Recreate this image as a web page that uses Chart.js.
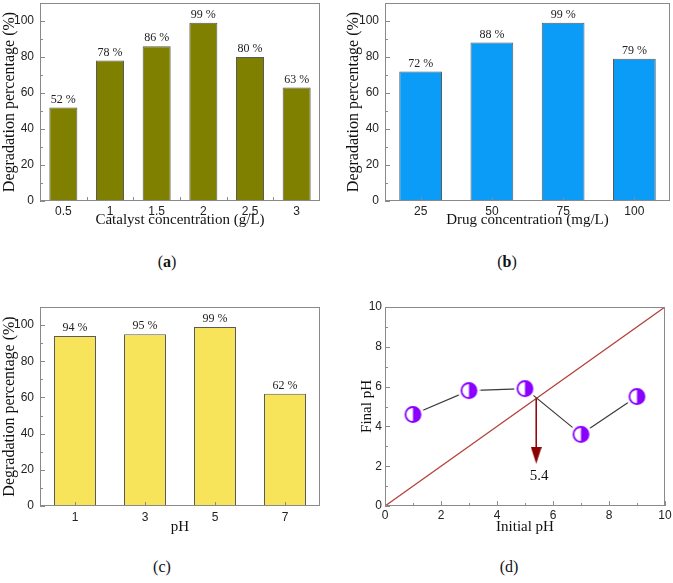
<!DOCTYPE html>
<html lang="en">
<head>
<meta charset="UTF-8">
<title>Degradation percentage and pH drift</title>
<script src="https://cdn.jsdelivr.net/npm/chart.js"></script>
<style>
  body { margin: 0; background: #fff; }
  #page { position: relative; width: 673px; height: 583px; overflow: hidden; }
  canvas { position: absolute; }
  .cap {
    position: absolute;
    font-family: "Liberation Serif", "Times New Roman", serif;
    font-size: 16px;
    color: #111;
    transform: translate(-50%, -50%);
  }
</style>
</head>
<body>
<div id="page">
  <canvas id="chartA" width="335" height="240" style="left:0;top:0"></canvas>
  <canvas id="chartB" width="338" height="240" style="left:335px;top:0"></canvas>
  <canvas id="chartC" width="335" height="250" style="left:0;top:290px"></canvas>
  <canvas id="chartD" width="338" height="250" style="left:335px;top:290px"></canvas>
  <div class="cap" style="left:167px;top:262px">(<b>a</b>)</div>
  <div class="cap" style="left:507px;top:262px">(<b>b</b>)</div>
  <div class="cap" style="left:162px;top:567px">(c)</div>
  <div class="cap" style="left:509px;top:567px">(d)</div>
</div>
<script>
// data
const catalystLabels = ['0.5', '1', '1.5', '2', '2.5', '3'];
const catalystValues = [52, 78, 86, 99, 80, 63];
const drugLabels = ['25', '50', '75', '100'];
const drugValues = [72, 88, 99, 79];
const phLabels = ['1', '3', '5', '7'];
const phValues = [94, 95, 99, 62];
const initialPH = [1, 3, 5, 7, 9];
const finalPH = [4.6, 5.8, 5.9, 3.6, 5.5];
const diagonalX = [0, 10];
const diagonalY = [0, 10];
const pzc = 5.4;
const arrowY = [5.4, 2.9];
const arrowHeadY = 2.55;
const pzcLabelY = 1.5;

const SERIF = '"Liberation Serif", "Times New Roman", serif';
const SANS = '"Liberation Sans", Arial, sans-serif';

// white halo + half filled circle, so the joining lines stop short of the markers
function halfCircle() {
    const c = document.createElement('canvas');
    c.width = 23; c.height = 23;
    const g = c.getContext('2d');
    g.fillStyle = '#fff';
    g.beginPath(); g.arc(11.5, 11.5, 11, 0, Math.PI * 2); g.fill();
    g.fillStyle = '#8a00ff';
    g.beginPath(); g.arc(11.5, 11.5, 7.5, -Math.PI / 2, Math.PI / 2); g.closePath(); g.fill();
    g.strokeStyle = '#8a00ff';
    g.lineWidth = 1.8;
    g.beginPath(); g.arc(11.5, 11.5, 7.5, 0, Math.PI * 2); g.stroke();
    return c;
}

function arrowHead() {
    const c = document.createElement('canvas');
    c.width = 11; c.height = 17;
    const g = c.getContext('2d');
    g.fillStyle = '#8b0000';
    g.beginPath(); g.moveTo(0, 0); g.lineTo(11, 0); g.lineTo(5.5, 17); g.closePath(); g.fill();
    return c;
}

const valueLabels = {
    id: 'valueLabels',
    afterDatasetsDraw(chart) {
        const ctx = chart.ctx;
        const data = chart.data.datasets[0].data;
        ctx.save();
        ctx.font = '12px ' + SERIF;
        ctx.fillStyle = '#222';
        ctx.textAlign = 'center';
        ctx.textBaseline = 'bottom';
        chart.getDatasetMeta(0).data.forEach((bar, i) => {
            ctx.fillText(data[i] + ' %', bar.x, bar.y - 2);
        });
        ctx.restore();
    }
};

// box round the plot and short inward tick marks
const frameTicks = {
    id: 'frameTicks',
    afterDraw(chart, args, opts) {
        const { ctx, chartArea: a } = chart;
        const x = chart.scales.x, y = chart.scales.y;
        ctx.save();
        ctx.strokeStyle = '#8a8a8a';
        ctx.lineWidth = 1;
        ctx.beginPath();
        y.ticks.forEach((t, i) => {
            const py = Math.round(y.getPixelForValue(t.value)) + 0.5;
            ctx.moveTo(a.left, py); ctx.lineTo(a.left + 5, py);
            if (i < y.ticks.length - 1) {
                const my = Math.round(y.getPixelForValue(t.value + opts.yMinor)) + 0.5;
                ctx.moveTo(a.left, my); ctx.lineTo(a.left + 3, my);
            }
        });
        if (opts.xMode === 'linear') {
            x.ticks.forEach((t, i) => {
                const px = Math.round(x.getPixelForValue(t.value)) + 0.5;
                ctx.moveTo(px, a.bottom); ctx.lineTo(px, a.bottom - 5);
                if (i < x.ticks.length - 1) {
                    const mx = Math.round(x.getPixelForValue(t.value + opts.xMinor)) + 0.5;
                    ctx.moveTo(mx, a.bottom); ctx.lineTo(mx, a.bottom - 3);
                }
            });
        } else {
            const n = chart.data.labels.length;
            for (let i = 0; i < n; i++) {
                let px = x.getPixelForValue(i);
                if (opts.xMode === 'edge') {
                    if (i === 0) continue;
                    px = (px + x.getPixelForValue(i - 1)) / 2;
                }
                px = Math.round(px) + 0.5;
                ctx.moveTo(px, a.bottom); ctx.lineTo(px, a.bottom - 4);
            }
        }
        ctx.stroke();
        ctx.strokeRect(a.left + 0.5, a.top + 0.5, a.width - 1, a.height - 1);
        ctx.restore();
    }
};

const pzcLabel = {
    id: 'pzcLabel',
    afterDatasetsDraw(chart) {
        const ctx = chart.ctx;
        ctx.save();
        ctx.font = '15px ' + SERIF;
        ctx.fillStyle = '#111';
        ctx.textAlign = 'center';
        ctx.textBaseline = 'middle';
        ctx.fillText(String(pzc), chart.scales.x.getPixelForValue(pzc) + 3, chart.scales.y.getPixelForValue(pzcLabelY));
        ctx.restore();
    }
};

function fixedY(w) {
    return s => { s.width = w; s.paddingTop = 0; s.paddingBottom = 0; };
}
function fixedX(h) {
    return s => { s.height = h; s.paddingLeft = 0; s.paddingRight = 0; };
}

function barChart(id, labels, values, color, opt) {
    new Chart(document.getElementById(id), {
        type: 'bar',
        data: {
            labels: labels,
            datasets: [{
                data: values,
                backgroundColor: color,
                borderColor: '#5a5a5a',
                borderWidth: 1,
                barPercentage: 0.6,
                categoryPercentage: 1
            }]
        },
        options: {
            responsive: false,
            animation: false,
            layout: { padding: opt.pad },
            plugins: {
                legend: { display: false },
                tooltip: { enabled: false },
                frameTicks: { yMinor: 10, xMode: opt.xMode }
            },
            scales: {
                x: {
                    grid: { display: false, drawTicks: false },
                    border: { display: false },
                    ticks: { padding: opt.xPad, color: '#222', font: { family: SANS, size: 12 } },
                    title: { display: true, text: opt.xTitle, color: '#111', padding: 0, font: { family: SERIF, size: 15 } },
                    afterFit: fixedX(opt.xH)
                },
                y: {
                    min: 0, max: 110,
                    grid: { display: false, drawTicks: false },
                    border: { display: false },
                    ticks: { stepSize: 20, padding: 6, color: '#222', font: { family: SANS, size: 12 } },
                    afterBuildTicks: s => { s.ticks = s.ticks.filter(t => t.value <= 100); },
                    title: { display: true, text: 'Degradation percentage (%)', color: '#111', padding: { top: opt.yTitlePad, bottom: 0 }, font: { family: SERIF, size: 16 } },
                    afterFit: fixedY(opt.yW)
                }
            }
        },
        plugins: [valueLabels, frameTicks]
    });
}

barChart('chartA', catalystLabels, catalystValues, '#7f7f00', {
    pad: { top: 3, right: 15, bottom: 11, left: 0 }, xH: 28, yW: 40, xPad: 3, yTitlePad: 0,
    xMode: 'edge', xTitle: 'Catalyst concentration (g/L)'
});
barChart('chartB', drugLabels, drugValues, '#0a9cf7', {
    pad: { top: 3, right: 3, bottom: 11, left: 0 }, xH: 28, yW: 50, xPad: 3, yTitlePad: 9,
    xMode: 'center', xTitle: 'Drug concentration (mg/L)'
});
barChart('chartC', phLabels, phValues, '#f8e45a', {
    pad: { top: 17, right: 15, bottom: 4, left: 0 }, xH: 30, yW: 40, xPad: 4, yTitlePad: 0,
    xMode: 'center', xTitle: 'pH'
});

new Chart(document.getElementById('chartD'), {
    type: 'line',
    data: {
        datasets: [
            {
                data: initialPH.map((v, i) => ({ x: v, y: finalPH[i] })),
                borderColor: '#3a3a3a',
                borderWidth: 1.2,
                pointStyle: halfCircle(),
                tension: 0
            },
            {
                data: [{ x: pzc, y: arrowHeadY }],
                showLine: false,
                pointStyle: arrowHead()
            },
            {
                data: arrowY.map(v => ({ x: pzc, y: v })),
                borderColor: '#8b0000',
                borderWidth: 1.5,
                pointRadius: 0
            },
            {
                data: diagonalX.map((v, i) => ({ x: v, y: diagonalY[i] })),
                borderColor: '#b5403a',
                borderWidth: 1.3,
                pointRadius: 0
            }
        ]
    },
    options: {
        responsive: false,
        animation: false,
        layout: { padding: { top: 17, right: 8, bottom: 4, left: 0 } },
        plugins: {
            legend: { display: false },
            tooltip: { enabled: false },
            frameTicks: { yMinor: 1, xMinor: 1, xMode: 'linear' }
        },
        scales: {
            x: {
                type: 'linear', min: 0, max: 10,
                grid: { display: false, drawTicks: false },
                border: { display: false },
                ticks: { stepSize: 2, padding: 2, color: '#222', font: { family: SANS, size: 12 } },
                title: { display: true, text: 'Initial pH', color: '#111', padding: 0, font: { family: SERIF, size: 15 } },
                afterFit: fixedX(30)
            },
            y: {
                min: 0, max: 10,
                grid: { display: false, drawTicks: false },
                border: { display: false },
                ticks: { stepSize: 2, padding: 3, color: '#222', font: { family: SANS, size: 12 } },
                title: { display: true, text: 'Final pH', color: '#111', padding: { top: 23, bottom: 0 }, font: { family: SERIF, size: 15 } },
                afterFit: fixedY(50)
            }
        }
    },
    plugins: [frameTicks, pzcLabel]
});
</script>
</body>
</html>
